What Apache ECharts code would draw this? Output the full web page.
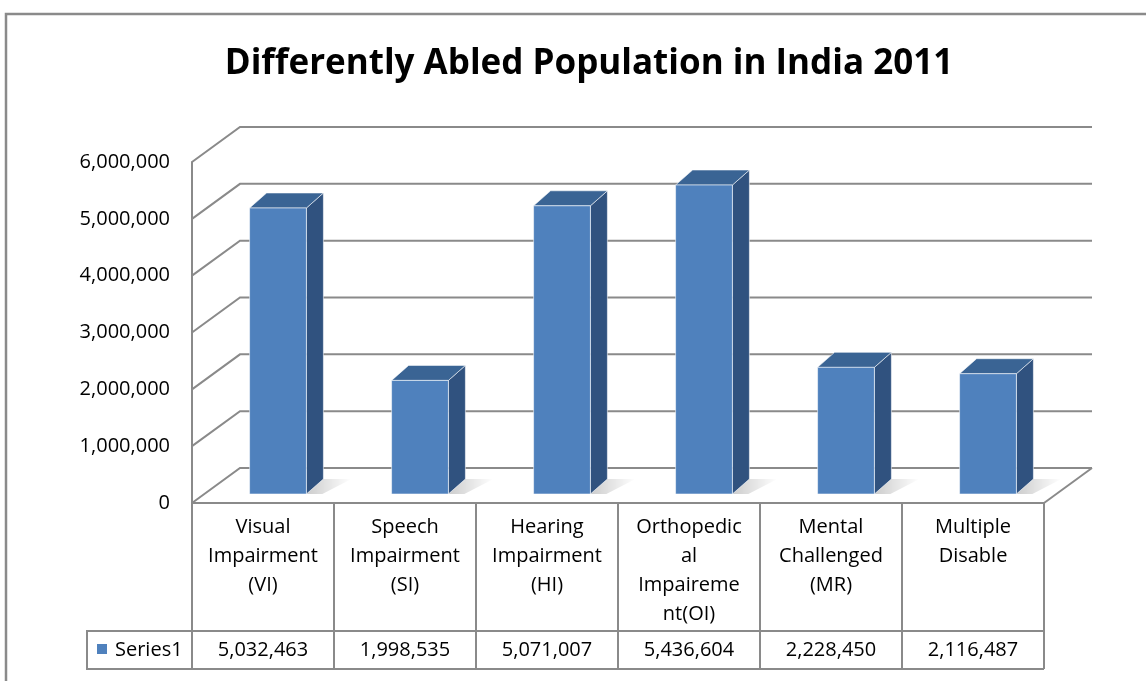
<!DOCTYPE html>
<html>
<head>
<meta charset="utf-8">
<title>Differently Abled Population in India 2011</title>
<script src="https://cdn.jsdelivr.net/npm/echarts@6/dist/echarts.min.js"></script>
<style>
  html, body { margin: 0; padding: 0; background: #fff; }
  #chart { width: 1146px; height: 681px; }
</style>
</head>
<body>
<div id="chart"></div>
<script>
  // data
  var categories = [
    'Visual\nImpairment\n(VI)',
    'Speech\nImpairment\n(SI)',
    'Hearing\nImpairment\n(HI)',
    'Orthopedic\nal\nImpaireme\nnt(OI)',
    'Mental\nChallenged\n(MR)',
    'Multiple\nDisable'
  ];
  var series1 = [5032463, 1998535, 5071007, 5436604, 2228450, 2116487];
  var yTicks = [0, 1000000, 2000000, 3000000, 4000000, 5000000, 6000000];

  var FONT = '"Open Sans", "DejaVu Sans", sans-serif';
  var GRID_COLOR = '#8a8a8a';
  // 3d look
  var WALL_DX = 48, WALL_DY = -35;   // back wall offset
  var BAR_DX = 15, BAR_DY = -9;      // bar front face sits a bit inside
  var SIDE_DX = 17, SIDE_DY = -15;   // bar depth

  function fmt(v) {
    return String(v).replace(/\B(?=(\d{3})+(?!\d))/g, ',');
  }

  var myChart = echarts.init(document.getElementById('chart'));

  myChart.setOption({
    animation: false,
    title: {
      text: 'Differently Abled Population in India 2011',
      left: 584,
      top: 42,
      textAlign: 'center',
      textStyle: { fontFamily: FONT, fontSize: 35, fontWeight: 'bold', color: '#000' }
    },
    graphic: [
      // outer chart border
      { type: 'rect', shape: { x: 6, y: 14, width: 1300, height: 800 },
        style: { fill: 'none', stroke: GRID_COLOR, lineWidth: 2.5 }, silent: true },
      // legend cell of the data table
      { type: 'rect', shape: { x: 87, y: 631, width: 105, height: 38 },
        style: { fill: 'none', stroke: GRID_COLOR, lineWidth: 2 }, silent: true },
      { type: 'rect', shape: { x: 97, y: 644, width: 10, height: 10 },
        style: { fill: '#4F81BD' }, silent: true },
      { type: 'text', x: 115, y: 650,
        style: { text: 'Series1', fontFamily: FONT, fontSize: 20, fill: '#000', verticalAlign: 'middle' },
        silent: true }
    ],
    grid: { left: 192, right: 102, top: 162, bottom: 178 },
    xAxis: {
      type: 'category',
      data: categories,
      axisLine: { show: true, lineStyle: { color: GRID_COLOR, width: 2 } },
      axisTick: { show: false },
      axisLabel: { show: false },
      splitLine: { show: false }
    },
    yAxis: {
      type: 'value',
      min: 0,
      max: 6000000,
      interval: 1000000,
      axisLine: { show: true, lineStyle: { color: GRID_COLOR, width: 2 } },
      axisTick: { show: false },
      splitLine: { show: false },
      axisLabel: {
        margin: 22,
        fontFamily: FONT,
        fontSize: 20,
        color: '#000',
        formatter: function (v) { return fmt(v); }
      }
    },
    series: [
      {
        // back wall + side wall gridlines
        name: 'wall',
        type: 'custom',
        silent: true,
        z: 1,
        data: yTicks.map(function (t) { return [0, t]; }),
        renderItem: function (params, api) {
          var p = api.coord([0, api.value(1)]);
          var band = api.size([1, 0])[0];
          var left = p[0] - band / 2;
          var right = left + band * categories.length;
          var y = p[1];
          var children = [{
            type: 'polyline',
            shape: { points: [[left, y], [left + WALL_DX, y + WALL_DY], [right + WALL_DX, y + WALL_DY]] },
            style: { stroke: GRID_COLOR, lineWidth: 2, fill: 'none' }
          }];
          if (api.value(1) === 0) {
            children.push({
              type: 'line',
              shape: { x1: right, y1: y, x2: right + WALL_DX, y2: y + WALL_DY },
              style: { stroke: GRID_COLOR, lineWidth: 2 }
            });
          }
          return { type: 'group', children: children };
        }
      },
      {
        name: 'Series1',
        type: 'custom',
        z: 3,
        data: series1.map(function (v, i) { return [i, v]; }),
        renderItem: function (params, api) {
          var top = api.coord([api.value(0), api.value(1)]);
          var base = api.coord([api.value(0), 0]);
          var band = api.size([1, 0])[0];
          var w = band * 0.40;
          var x0 = top[0] + BAR_DX - w / 2;
          var x1 = x0 + w;
          var yt = top[1] + BAR_DY;
          var yb = base[1] + BAR_DY;
          var edge = 'rgba(255,255,255,0.55)';
          return {
            type: 'group',
            children: [
              { // floor shadow
                type: 'polygon',
                shape: { points: [[x1, yb], [x1 + SIDE_DX, yb + SIDE_DY], [x1 + SIDE_DX + 28, yb + SIDE_DY], [x1 + 16, yb]] },
                style: {
                  fill: new echarts.graphic.LinearGradient(0, 0, 1, 0, [
                    { offset: 0, color: 'rgba(0,0,0,0.2)' },
                    { offset: 1, color: 'rgba(0,0,0,0)' }
                  ])
                }
              },
              { // side
                type: 'polygon',
                shape: { points: [[x1, yt], [x1 + SIDE_DX, yt + SIDE_DY], [x1 + SIDE_DX, yb + SIDE_DY], [x1, yb]] },
                style: { fill: '#30527F', stroke: edge, lineWidth: 1 }
              },
              { // top
                type: 'polygon',
                shape: { points: [[x0, yt], [x0 + SIDE_DX, yt + SIDE_DY], [x1 + SIDE_DX, yt + SIDE_DY], [x1, yt]] },
                style: { fill: '#3A6494', stroke: edge, lineWidth: 1 }
              },
              { // front
                type: 'rect',
                shape: { x: x0, y: yt, width: w, height: yb - yt },
                style: { fill: '#4F81BD', stroke: edge, lineWidth: 1 }
              }
            ]
          };
        }
      },
      {
        // data table under the plot
        name: 'table',
        type: 'custom',
        silent: true,
        z: 2,
        data: series1.map(function (v, i) { return [i, v]; }),
        renderItem: function (params, api) {
          var i = api.value(0);
          var c = api.coord([i, 0]);
          var band = api.size([1, 0])[0];
          var l = c[0] - band / 2, r = c[0] + band / 2;
          var y0 = c[1], y1 = c[1] + 128, y2 = c[1] + 166;
          var line = { stroke: GRID_COLOR, lineWidth: 2 };
          var children = [
            { type: 'line', shape: { x1: r, y1: y0, x2: r, y2: y2 }, style: line },
            { type: 'line', shape: { x1: l, y1: y1, x2: r, y2: y1 }, style: line },
            { type: 'line', shape: { x1: l, y1: y2, x2: r, y2: y2 }, style: line },
            { type: 'text', x: c[0], y: y0 + 10,
              style: { text: categories[i], fontFamily: FONT, fontSize: 20, lineHeight: 29,
                       fill: '#000', align: 'center', verticalAlign: 'top' } },
            { type: 'text', x: c[0], y: (y1 + y2) / 2,
              style: { text: fmt(api.value(1)), fontFamily: FONT, fontSize: 20,
                       fill: '#000', align: 'center', verticalAlign: 'middle' } }
          ];
          if (i === 0) {
            children.push({ type: 'line', shape: { x1: l, y1: y0, x2: l, y2: y2 }, style: line });
          }
          return { type: 'group', children: children };
        }
      }
    ]
  });
</script>
</body>
</html>
